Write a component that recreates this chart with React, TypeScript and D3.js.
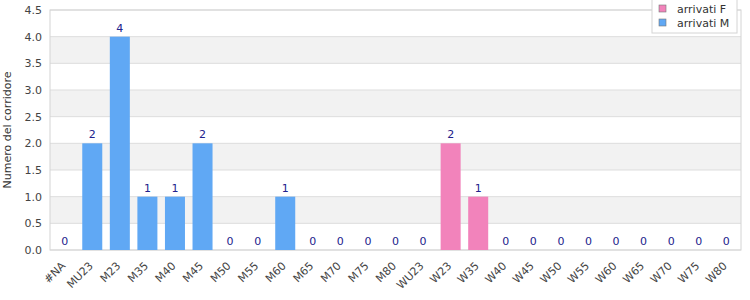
import React from 'react';
import * as d3 from 'd3';

const categories = [
  '#NA', 'MU23', 'M23', 'M35', 'M40', 'M45', 'M50', 'M55', 'M60', 'M65', 'M70', 'M75', 'M80',
  'WU23', 'W23', 'W35', 'W40', 'W45', 'W50', 'W55', 'W60', 'W65', 'W70', 'W75', 'W80'
];
// which series each category belongs to
const seriesOf = [
  'M', 'M', 'M', 'M', 'M', 'M', 'M', 'M', 'M', 'M', 'M', 'M', 'M',
  'F', 'F', 'F', 'F', 'F', 'F', 'F', 'F', 'F', 'F', 'F', 'F'
];
const arrivati = [0, 2, 4, 1, 1, 2, 0, 0, 1, 0, 0, 0, 0, 0, 2, 1, 0, 0, 0, 0, 0, 0, 0, 0, 0];
const yTicks = [0, 0.5, 1, 1.5, 2, 2.5, 3, 3.5, 4, 4.5];
const legendItems = [
  { key: 'F', label: 'arrivati F' },
  { key: 'M', label: 'arrivati M' }
];

const COLORS: Record<string, string> = { F: '#f283bb', M: '#60a8f4' };
const FONT = 'DejaVu Sans, Verdana, sans-serif';

export default function App() {
  const width = 750;
  const height = 300;
  const margin = { top: 10, right: 9, bottom: 50, left: 50 };
  const innerW = width - margin.left - margin.right;
  const innerH = height - margin.top - margin.bottom;

  const x = d3.scaleBand<string>()
    .domain(categories)
    .range([0, innerW])
    .paddingInner(0.274)
    .paddingOuter(0.17);

  const y = d3.scaleLinear().domain([0, 4.5]).range([innerH, 0]);

  const bands = d3.pairs(yTicks);

  return (
    <svg width={width} height={height} style={{ position: 'absolute', left: 0, top: 0 }}>
      <rect width={width} height={height} fill="#fff" />
      <g transform={`translate(${margin.left},${margin.top})`}>
        {/* alternating bands */}
        {bands.map(([a, b], i) => (
          <rect key={i} x={0} y={y(b)} width={innerW} height={y(a) - y(b)}
            fill={i % 2 === 1 ? '#f2f2f2' : '#fff'} />
        ))}
        {yTicks.map(t => (
          <line key={t} x1={0} x2={innerW} y1={y(t)} y2={y(t)} stroke="#dddddd" />
        ))}
        <rect x={0} y={0} width={innerW} height={innerH} fill="none" stroke="#d4d4d4" />

        {/* bars */}
        {categories.map((c, i) => (
          <rect key={c} x={x(c)} y={y(arrivati[i])} width={x.bandwidth()}
            height={innerH - y(arrivati[i])} fill={COLORS[seriesOf[i]]} />
        ))}
        {categories.map((c, i) => (
          <text key={c} x={(x(c) ?? 0) + x.bandwidth() / 2} y={y(arrivati[i]) - 5}
            textAnchor="middle" fontSize={11} fontFamily={FONT} fill="#22228c">
            {arrivati[i]}
          </text>
        ))}

        {/* y axis */}
        {yTicks.map(t => (
          <text key={t} x={-8} y={y(t)} dy="0.35em" textAnchor="end"
            fontSize={11} fontFamily={FONT} fill="#444">
            {d3.format('.1f')(t)}
          </text>
        ))}
        <text transform={`translate(${-39},${innerH / 2}) rotate(-90)`} textAnchor="middle"
          fontSize={11} fontFamily={FONT} fill="#333">
          Numero del corridore
        </text>

        {/* x axis labels */}
        {categories.map(c => (
          <text key={c}
            transform={`translate(${(x(c) ?? 0) + x.bandwidth() / 2 - 4},${innerH + 11}) rotate(-45)`}
            textAnchor="end" dy="0.7em" fontSize={11} fontFamily={FONT} fill="#444">
            {c}
          </text>
        ))}
      </g>

      {/* legend */}
      <g>
        <rect x={652} y={-1} width={85} height={34} fill="#fff" stroke="#d4d4d4" />
        {legendItems.map((d, i) => (
          <g key={d.key} transform={`translate(659,${5 + i * 14})`}>
            <rect x={0} y={0} width={7} height={7} fill={COLORS[d.key]} stroke="#777" strokeWidth={0.6} />
            <text x={18} y={4} dy="0.35em" fontSize={11} fontFamily={FONT} fill="#333">{d.label}</text>
          </g>
        ))}
      </g>
    </svg>
  );
}
